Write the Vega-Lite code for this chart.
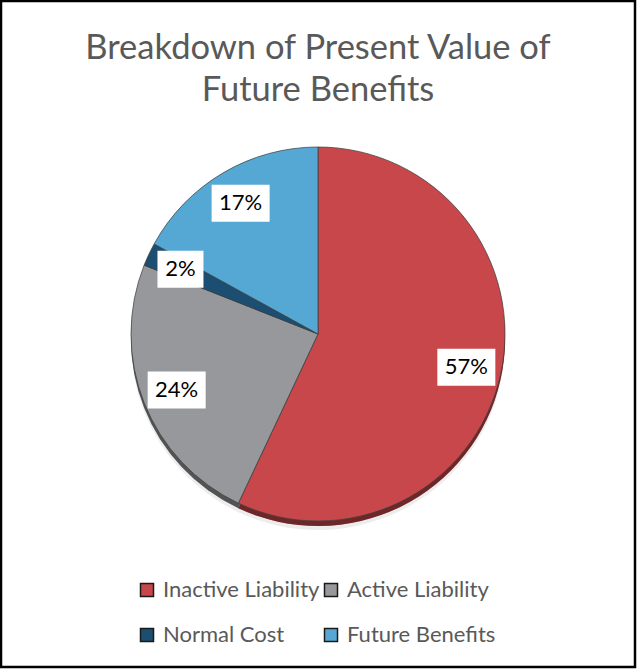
{
  "$schema": "https://vega.github.io/schema/vega-lite/v6.json",
  "width": 634,
  "height": 666,
  "autosize": {"type": "none"},
  "padding": {"left": 1, "top": 1, "right": 3, "bottom": 3},
  "background": "white",
  "title": {
    "text": ["Breakdown of Present Value of", "Future Benefits"],
    "font": "Lato",
    "fontSize": 34.5,
    "fontWeight": "normal",
    "color": "#595959",
    "lineHeight": 42,
    "anchor": "middle",
    "offset": -107
  },
  "data": {
    "values": [
      {"category": "Inactive Liability", "value": 57, "rank": 1},
      {"category": "Active Liability", "value": 24, "rank": 2},
      {"category": "Normal Cost", "value": 2, "rank": 3},
      {"category": "Future Benefits", "value": 17, "rank": 4}
    ]
  },
  "transform": [
    {"joinaggregate": [{"op": "sum", "field": "value", "as": "total"}]},
    {"window": [{"op": "sum", "field": "value", "as": "cum"}], "sort": [{"field": "rank"}], "frame": [null, 0]},
    {"calculate": "2*PI*(datum.cum - datum.value/2)/datum.total", "as": "mid"},
    {"calculate": "sin(datum.mid)", "as": "px"},
    {"calculate": "cos(datum.mid)", "as": "py"},
    {"calculate": "datum.value + '%'", "as": "label"}
  ],
  "layer": [
    {
      "mark": {"type": "arc", "radius": 187, "yOffset": 9, "fill": "#000000", "opacity": 0.07},
      "encoding": {
        "theta": {"field": "value", "type": "quantitative", "stack": true},
        "order": {"field": "rank", "type": "quantitative"}
      }
    },
    {
      "mark": {"type": "arc", "radius": 187, "yOffset": 5},
      "encoding": {
        "theta": {"field": "value", "type": "quantitative", "stack": true},
        "order": {"field": "rank", "type": "quantitative"},
        "color": {
          "field": "category",
          "type": "nominal",
          "sort": ["Inactive Liability", "Active Liability", "Normal Cost", "Future Benefits"],
          "scale": {
            "domain": ["Inactive Liability", "Active Liability", "Normal Cost", "Future Benefits"],
            "range": ["#C8474A", "#96989C", "#1B4E70", "#55A8D4"]
          },
          "legend": {
            "title": null,
            "orient": "none",
            "direction": "horizontal",
            "legendX": 135,
            "legendY": 578,
            "columns": 2,
            "columnPadding": -4,
            "rowPadding": 23,
            "symbolType": "square",
            "symbolSize": 169,
            "symbolStrokeColor": "#1a1a1a",
            "symbolStrokeWidth": 1.5,
            "symbolOpacity": 1,
            "labelFont": "Lato",
            "labelFontSize": 22,
            "labelColor": "#595959",
            "labelOffset": 5,
            "labelLimit": 300,
            "padding": 0,
            "encode": {"symbols": {"update": {"stroke": {"value": "#1a1a1a"}, "strokeWidth": {"value": 1.5}}}}
          }
        }
      }
    },
    {
      "mark": {"type": "arc", "radius": 187, "yOffset": 5, "fill": "#000000", "opacity": 0.45},
      "encoding": {
        "theta": {"field": "value", "type": "quantitative", "stack": true},
        "order": {"field": "rank", "type": "quantitative"}
      }
    },
    {
      "mark": {"type": "arc", "radius": 187, "stroke": "#404040", "strokeWidth": 0.75},
      "encoding": {
        "theta": {"field": "value", "type": "quantitative", "stack": true},
        "order": {"field": "rank", "type": "quantitative"},
        "color": {
          "field": "category",
          "type": "nominal",
          "sort": ["Inactive Liability", "Active Liability", "Normal Cost", "Future Benefits"],
          "scale": {
            "domain": ["Inactive Liability", "Active Liability", "Normal Cost", "Future Benefits"],
            "range": ["#C8474A", "#96989C", "#1B4E70", "#55A8D4"]
          },
          "legend": {
            "title": null,
            "orient": "none",
            "direction": "horizontal",
            "legendX": 135,
            "legendY": 578,
            "columns": 2,
            "columnPadding": -4,
            "rowPadding": 23,
            "symbolType": "square",
            "symbolSize": 169,
            "symbolStrokeColor": "#1a1a1a",
            "symbolStrokeWidth": 1.5,
            "symbolOpacity": 1,
            "labelFont": "Lato",
            "labelFontSize": 22,
            "labelColor": "#595959",
            "labelOffset": 5,
            "labelLimit": 300,
            "padding": 0,
            "encode": {"symbols": {"update": {"stroke": {"value": "#1a1a1a"}, "strokeWidth": {"value": 1.5}}}}
          }
        }
      }
    },
    {
      "transform": [{"filter": "datum.value >= 10"}],
      "mark": {"type": "point", "shape": "M-1.5676,-1L1.5676,-1L1.5676,1L-1.5676,1Z", "size": 1369, "filled": true, "fill": "white", "opacity": 1, "strokeWidth": 0},
      "encoding": {
        "x": {"field": "px", "type": "quantitative", "scale": {"domain": [-2.0855, 2.0855]}, "axis": null},
        "y": {"field": "py", "type": "quantitative", "scale": {"domain": [-2.1908, 2.1908]}, "axis": null}
      }
    },
    {
      "transform": [{"filter": "datum.value < 10"}],
      "mark": {"type": "point", "shape": "M-1.243,-1L1.243,-1L1.243,1L-1.243,1Z", "size": 1369, "filled": true, "fill": "white", "opacity": 1, "strokeWidth": 0},
      "encoding": {
        "x": {"field": "px", "type": "quantitative", "scale": {"domain": [-2.0855, 2.0855]}, "axis": null},
        "y": {"field": "py", "type": "quantitative", "scale": {"domain": [-2.1908, 2.1908]}, "axis": null}
      }
    },
    {
      "mark": {"type": "text", "font": "Lato", "fontSize": 22, "color": "#000000", "align": "center", "baseline": "middle"},
      "encoding": {
        "x": {"field": "px", "type": "quantitative", "scale": {"domain": [-2.0855, 2.0855]}, "axis": null},
        "y": {"field": "py", "type": "quantitative", "scale": {"domain": [-2.1908, 2.1908]}, "axis": null},
        "text": {"field": "label", "type": "nominal"}
      }
    }
  ],
  "config": {
    "view": {"stroke": "#000000", "strokeWidth": 2.5}
  }
}
